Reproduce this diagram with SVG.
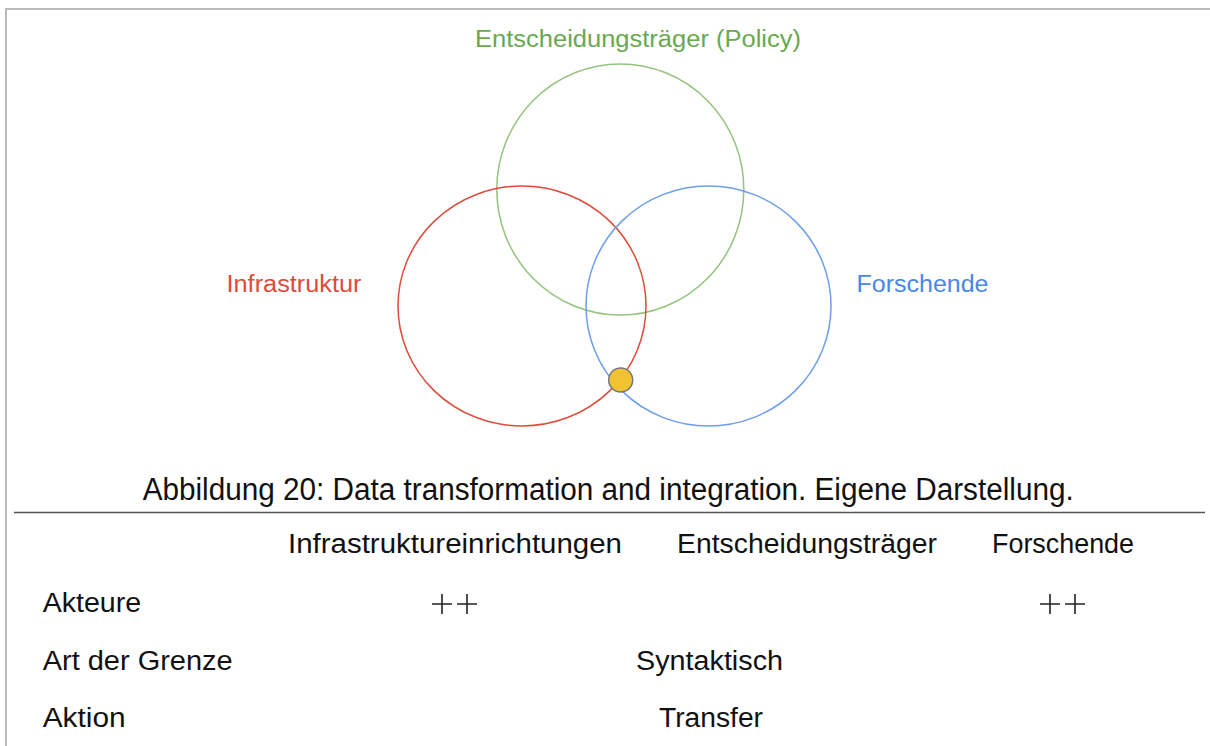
<svg xmlns="http://www.w3.org/2000/svg" width="1210" height="746" viewBox="0 0 1210 746">
<style>
.lbl{font-family:"Liberation Sans",Arial,sans-serif;font-size:23px}
.tx{font-family:"Liberation Sans",Arial,sans-serif;font-size:27px;fill:#111}
.cap{font-family:"Liberation Sans",Arial,sans-serif;font-size:31px;fill:#111}
.circ{fill:none;stroke-width:1.5}
</style>
<rect width="1210" height="746" fill="#fff"/>
<path d="M6,746 V9 H1210" fill="none" stroke="#bbbbbb" stroke-width="2"/>
<g id="policy">
<ellipse class="circ" cx="620.3" cy="189.5" rx="123.5" ry="125.5" stroke="#93c47d"/>
<text class="lbl" x="475" y="47" fill="#6aa84f" textLength="326" lengthAdjust="spacingAndGlyphs">Entscheidungsträger (Policy)</text>
</g>
<g id="infrastruktur">
<ellipse class="circ" cx="522" cy="306" rx="124" ry="120" stroke="#dd4b39"/>
<text class="lbl" x="226.5" y="292" fill="#dd4b39" textLength="135" lengthAdjust="spacingAndGlyphs">Infrastruktur</text>
</g>
<g id="forschende">
<ellipse class="circ" cx="708.5" cy="306" rx="122.5" ry="120" stroke="#6d9eeb"/>
<text class="lbl" x="856.5" y="292" fill="#4a86e8" textLength="132" lengthAdjust="spacingAndGlyphs">Forschende</text>
</g>
<g id="connectors"></g>
<g id="dot">
<circle cx="620.7" cy="380" r="12" fill="#f1c232" stroke="#777" stroke-width="1.5"/>
</g>
<g id="caption">
<text class="cap" x="142.7" y="500" textLength="931" lengthAdjust="spacingAndGlyphs">Abbildung 20: Data transformation and integration. Eigene Darstellung.</text>
<line x1="14" y1="512.5" x2="1205" y2="512.5" stroke="#555" stroke-width="1.5"/>
</g>
<g id="table">
<text class="tx" x="288" y="553" textLength="334" lengthAdjust="spacingAndGlyphs">Infrastruktureinrichtungen</text>
<text class="tx" x="677" y="553" textLength="260" lengthAdjust="spacingAndGlyphs">Entscheidungsträger</text>
<text class="tx" x="992" y="553" textLength="142" lengthAdjust="spacingAndGlyphs">Forschende</text>
<text class="tx" x="42.7" y="612" textLength="98.5" lengthAdjust="spacingAndGlyphs">Akteure</text>
<text class="tx" x="42.7" y="670" textLength="190" lengthAdjust="spacingAndGlyphs">Art der Grenze</text>
<text class="tx" x="42.7" y="727" textLength="83" lengthAdjust="spacingAndGlyphs">Aktion</text>
<g stroke="#222" stroke-width="1.6">
<path d="M432,604 H452 M442,594 V614 M457,604 H477 M467,594 V614"/>
<path d="M1040,604 H1060 M1050,594 V614 M1065,604 H1085 M1075,594 V614"/>
</g>
<text class="tx" x="636" y="670" textLength="147" lengthAdjust="spacingAndGlyphs">Syntaktisch</text>
<text class="tx" x="659" y="727" textLength="104" lengthAdjust="spacingAndGlyphs">Transfer</text>
</g>
</svg>
